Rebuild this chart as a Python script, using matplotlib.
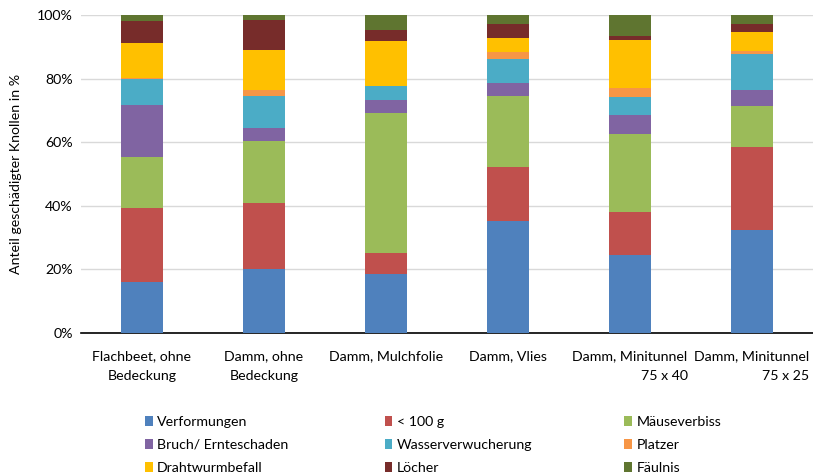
import matplotlib
matplotlib.use("Agg")
import matplotlib.pyplot as plt
import numpy as np

categories = [
    "Flachbeet, ohne\nBedeckung",
    "Damm, ohne\nBedeckung",
    "Damm, Mulchfolie",
    "Damm, Vlies",
    "Damm, Minitunnel\n75 x 40",
    "Damm, Minitunnel\n75 x 25",
]
label_align = ["center", "center", "center", "center", "right", "right"]

series_names = [
    "Verformungen", "< 100 g", "Mäuseverbiss",
    "Bruch/ Ernteschaden", "Wasserverwucherung", "Platzer",
    "Drahtwurmbefall", "Löcher", "Fäulnis",
]

verformungen = [15.9, 20.1, 18.4, 35.2, 24.6, 32.3]
unter_100g = [23.4, 20.9, 6.8, 17.1, 13.3, 26.1]
maeuseverbiss = [16.2, 19.3, 43.9, 22.2, 24.7, 12.9]
bruch = [16.1, 4.3, 4.3, 4.1, 5.9, 5.1]
wasserverwucherung = [8.3, 9.9, 4.4, 7.6, 5.6, 11.3]
platzer = [0.4, 1.9, 0.0, 2.1, 3.0, 1.1]
drahtwurm = [11.0, 12.6, 14.1, 4.4, 15.0, 5.7]
loecher = [6.8, 9.4, 3.4, 4.6, 1.2, 2.8]
faeulnis = [1.9, 1.6, 4.7, 2.7, 6.7, 2.7]

series = [verformungen, unter_100g, maeuseverbiss, bruch, wasserverwucherung,
          platzer, drahtwurm, loecher, faeulnis]
colors = ["#4F81BD", "#C0504D", "#9BBB59", "#8064A2", "#4BACC6",
          "#F79646", "#FFC000", "#772C2A", "#5F7530"]

plt.rcParams["font.family"] = ["Lato", "DejaVu Sans"]
plt.rcParams["font.size"] = 10.2

fig = plt.figure(figsize=(8.13, 4.76), dpi=100)
ax = fig.add_axes([0.0996, 0.3004, 0.9004, 0.6681])

x = np.arange(len(categories))
bottom = np.zeros(len(categories))
handles = []
for name, vals, col in zip(series_names, series, colors):
    vals = np.array(vals)
    h = ax.bar(x, vals, 0.35, bottom=bottom, color=col, label=name, zorder=3)
    handles.append(h)
    bottom += vals

ax.set_xlim(-0.5, len(categories) - 0.5)
ax.set_ylim(0, 100)
ax.set_yticks(np.arange(0, 101, 20))
ax.set_yticklabels([f"{v}%" for v in range(0, 101, 20)])
ax.yaxis.grid(True, color="#D9D9D9", linewidth=1.0, zorder=0)
ax.set_axisbelow(True)
for s in ["top", "right", "left"]:
    ax.spines[s].set_visible(False)
ax.spines["bottom"].set_color("black")
ax.spines["bottom"].set_linewidth(1.2)
ax.tick_params(axis="y", length=0, pad=6)
ax.tick_params(axis="x", length=0, pad=12)
ax.set_xticks(x)
ax.set_xticklabels(categories)
for lbl, al in zip(ax.get_xticklabels(), label_align):
    lbl.set_multialignment(al)
    lbl.set_linespacing(1.8)

ax.set_ylabel("Anteil geschädigter Knollen in %", fontsize=10.2)
ax.yaxis.set_label_coords(-0.08, 0.5)

# legend: three columns, filled row by row
col_x = [0.178, 0.473, 0.768]
for c, x0 in enumerate(col_x):
    idx = [c, c + 3, c + 6]
    leg = fig.legend(handles=[handles[i] for i in idx],
                     labels=[series_names[i] for i in idx],
                     ncol=1, loc="upper left",
                     bbox_to_anchor=(x0, 0.127), frameon=False,
                     handlelength=0.55, handleheight=0.7, handletextpad=0.3,
                     labelspacing=0.78, borderaxespad=0, borderpad=0)

fig.savefig("out.png", dpi=100)
